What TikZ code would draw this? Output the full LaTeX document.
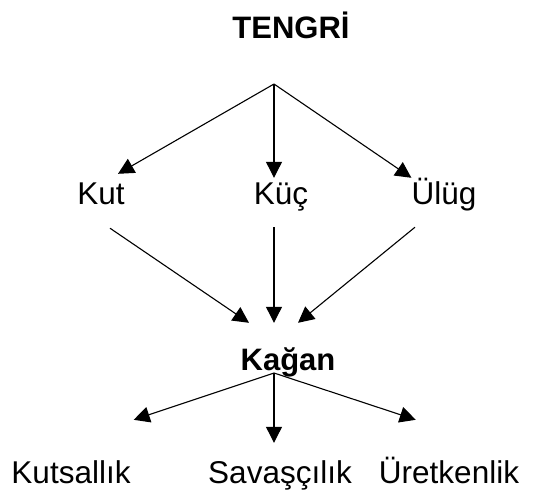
\documentclass[tikz,border=0pt]{standalone}
\usepackage{fontspec}
\setmainfont{Liberation Sans}
\usetikzlibrary{arrows.meta}
\usetikzlibrary{calc}
\tikzset{
    lbl/.style={font=\fontsize{31.5}{38}\selectfont, inner sep=0pt, anchor=base,
        text height=22pt, text depth=6pt},
    blbl/.style={lbl, font=\fontsize{31}{38}\selectfont\bfseries},
    arr/.style={-{Triangle[length=16pt,width=16pt]}, line width=1.1pt},
}

\begin{document}
\begin{tikzpicture}[x=1pt,y=-1pt]
    \useasboundingbox (0,0) rectangle (533,491);

    \node[blbl] (tengri) at (291,38) {TENGRİ};
    \coordinate (tsplit) at (274,84);

    \node[lbl] (kut) at (101,204) {Kut};
    \node[lbl] (kuc) at (281,204) {Küç};
    \node[lbl] (ulug) at (444,204) {Ülüg};

    \node[blbl] (kagan) at (288,370) {Kağan};
    \coordinate (ksplit) at ($(kagan.base)+(-14,3)$);

    \node[lbl] (kutsal) at (71,483) {Kutsallık};
    \node[lbl] (savas) at (280,483) {Savaşçılık};
    \node[lbl] (uret) at (449,483) {Üretkenlik};

    \draw[arr] (tsplit) -- ($(kut.north)+(17,-8)$);
    \draw[arr] (tsplit) -- ($(kuc.north)+(-7,-4)$);
    \draw[arr] (tsplit) -- ($(ulug.north west)+(0,-4)$);

    \draw[arr] ($(kut.south)+(9,18)$) -- ($(kagan.north)+(-39,-25)$);
    \draw[arr] ($(kuc.south)+(-7,17)$) -- ($(kagan.north)+(-14,-25)$);
    \draw[arr] ($(ulug.south)+(-29,17)$) -- ($(kagan.north)+(10,-25)$);

    \draw[arr] (ksplit) -- ($(kutsal.north east)+(3,-41)$);
    \draw[arr] (ksplit) -- ($(savas.north)+(-6,-18)$);
    \draw[arr] (ksplit) -- ($(uret.north west)+(37,-41)$);
\end{tikzpicture}
\end{document}
